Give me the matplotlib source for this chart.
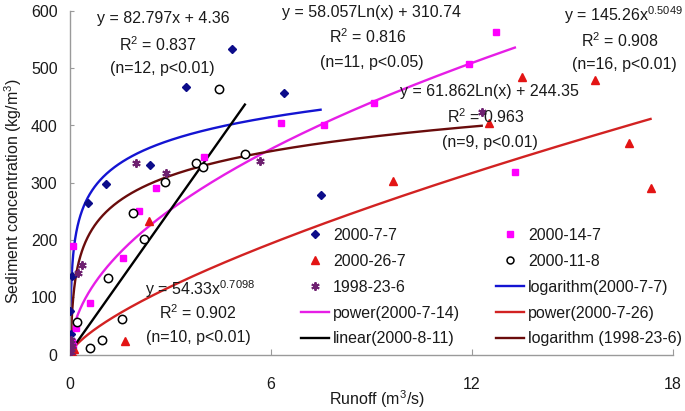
import numpy as np
import matplotlib
matplotlib.use('Agg')
import matplotlib.pyplot as plt
from matplotlib.lines import Line2D

plt.rcParams['font.family'] = ['Liberation Sans', 'DejaVu Sans']
plt.rcParams['mathtext.fontset'] = 'custom'
plt.rcParams['mathtext.rm'] = 'Liberation Sans'
plt.rcParams['mathtext.it'] = 'Liberation Sans:italic'
plt.rcParams['mathtext.bf'] = 'Liberation Sans:bold'

# ---------------- data ----------------
x_0707 = [0.01, 0.02, 0.05, 0.55, 1.07, 2.40, 3.45, 4.84, 6.40, 7.48, 0.015]
y_0707 = [76, 35, 137, 265, 298, 331, 468, 533, 456, 278, 12]

x_0714 = [0.02, 0.05, 0.18, 0.10, 0.60, 1.57, 2.06, 2.58, 4.00, 6.30, 7.58, 9.07, 11.90, 12.72, 13.28, 0.08]
y_0714 = [8, 21, 47, 189, 90, 168, 251, 291, 345, 404, 400, 439, 508, 563, 319, 15]

x_0726 = [0.12, 0.05, 1.64, 2.37, 9.65, 12.50, 13.48, 15.67, 16.70, 17.33]
y_0726 = [9, 4, 23, 233, 303, 404, 485, 480, 369, 290]

x_0811 = [4.45, 3.76, 3.96, 2.84, 5.22, 1.89, 2.21, 1.14, 1.56, 0.95, 0.60, 0.20]
y_0811 = [464, 334, 327, 301, 350, 248, 202, 134, 62, 26, 11, 57]

x_1998 = [1.97, 2.87, 5.67, 12.29, 0.35, 0.23, 0.02, 0.05, 0.03]
y_1998 = [334, 317, 338, 423, 156, 143, 5, 15, 25]

# trend-line coefficients as printed on the chart
log_0707 = (58.057, 310.74)   # y = a ln(x) + b
pow_0714 = (145.26, 0.5049)   # y = a x^b
pow_0726 = (54.33, 0.7098)    # y = a x^b
lin_0811 = (82.797, 4.36)     # y = a x + b
log_1998 = (61.862, 244.35)   # y = a ln(x) + b

x_ticks = [0, 6, 12, 18]
y_ticks = [0, 100, 200, 300, 400, 500, 600]

# ---------------- styling ----------------
c_navy = '#0c0c8a'
c_blue = '#1414d2'
c_mag = '#ff00ff'
c_magl = '#e61ee6'
c_red = '#e31414'
c_redl = '#d22222'
c_purp = '#6e2070'
c_brown = '#6a0c0c'
FS = 11.5

W, H = 685, 411
fig = plt.figure(figsize=(W / 100, H / 100), dpi=100)
ax = fig.add_axes([70 / W, 1 - 354.5 / H, 603 / W, 343.5 / H])


def span(xs, n=400):
    return np.geomspace(min(xs), max(xs), n)


xs = span(x_0707)
ax.plot(xs, log_0707[0] * np.log(xs) + log_0707[1], color=c_blue, lw=1.7, zorder=2)
xs = span(x_0714)
ax.plot(xs, pow_0714[0] * xs ** pow_0714[1], color=c_magl, lw=1.7, zorder=2)
xs = span(x_0726)
ax.plot(xs, pow_0726[0] * xs ** pow_0726[1], color=c_redl, lw=1.7, zorder=2)
xs = np.linspace(0, max(x_0811), 50)
ax.plot(xs, lin_0811[0] * xs + lin_0811[1], color='black', lw=1.7, zorder=2)
xs = span(x_1998)
ax.plot(xs, log_1998[0] * np.log(xs) + log_1998[1], color=c_brown, lw=1.7, zorder=2)

ax.plot(x_0707, y_0707, ls='none', marker='D', ms=4.5, color=c_navy, zorder=3)
ax.plot(x_0714, y_0714, ls='none', marker='s', ms=4.5, color=c_mag, zorder=3)
ax.plot(x_0726, y_0726, ls='none', marker='^', ms=6, color=c_red, zorder=3)
ax.plot(x_0811, y_0811, ls='none', marker='o', ms=6, mfc='white', mec='black', mew=1.1, zorder=3)
ax.plot(x_1998, y_1998, ls='none', marker=(6, 2, 0), ms=6, color=c_purp, mew=1.4, zorder=3)

ax.set_xlim(0, 18)
ax.set_ylim(0, 600)
ax.set_xticks(x_ticks)
ax.set_yticks(y_ticks)
for s in ['top', 'right']:
    ax.spines[s].set_visible(False)
for s in ['left', 'bottom']:
    ax.spines[s].set_color('#9a9a9a')
    ax.spines[s].set_linewidth(1.0)
ax.tick_params(axis='x', direction='in', length=4, color='#9a9a9a', pad=16, labelsize=FS, labelcolor='#1a1a1a')
ax.tick_params(axis='y', direction='in', length=3, color='#9a9a9a', pad=9, labelsize=FS, labelcolor='#1a1a1a')

ax.set_xlabel('Runoff (m$^3$/s)', fontsize=FS, color='#1a1a1a')
ax.xaxis.label.set_va('center')
ax.xaxis.set_label_coords(0.509, (354.5 - 399) / 343.5)
ax.set_ylabel('Sediment concentration (kg/m$^3$)', fontsize=FS, color='#1a1a1a')
ax.yaxis.label.set_va('center')
ax.yaxis.set_label_coords((13 - 70) / 603, (354.5 - 191) / 343.5)


def ftext(px, py, s):
    fig.text(px / W, 1 - py / H, s, ha='center', va='center', fontsize=FS, color='#1a1a1a')


# equations
ftext(163, 18, 'y = 82.797x + 4.36')
ftext(158, 45, 'R$^2$ = 0.837')
ftext(162, 68, '(n=12, p<0.01)')

ftext(372, 12, 'y = 58.057Ln(x) + 310.74')
ftext(368, 37, 'R$^2$ = 0.816')
ftext(372, 62, '(n=11, p<0.05)')

ftext(624, 15, 'y = 145.26x$^{0.5049}$')
ftext(620, 41, 'R$^2$ = 0.908')
ftext(624, 65, '(n=16, p<0.01)')

ftext(489, 91, 'y = 61.862Ln(x) + 244.35')
ftext(486, 117, 'R$^2$ = 0.963')
ftext(490, 142, '(n=9, p<0.01)')

ftext(200, 289, 'y = 54.33x$^{0.7098}$')
ftext(198, 313, 'R$^2$ = 0.902')
ftext(198, 337, '(n=10, p<0.01)')

# legends
def mk(**kw):
    return Line2D([], [], **kw)

col1 = [
    (mk(ls='none', marker='D', ms=4.5, color=c_navy), '2000-7-7'),
    (mk(ls='none', marker='^', ms=6, color=c_red), '2000-26-7'),
    (mk(ls='none', marker=(6, 2, 0), ms=6, color=c_purp, mew=1.4), '1998-23-6'),
    (mk(color=c_magl, lw=1.7), 'power(2000-7-14)'),
    (mk(color='black', lw=1.7), 'linear(2000-8-11)'),
]
col2 = [
    (mk(ls='none', marker='s', ms=4.5, color=c_mag), '2000-14-7'),
    (mk(ls='none', marker='o', ms=5, mfc='white', mec='black', mew=1.1), '2000-11-8'),
    (mk(color=c_blue, lw=1.7), 'logarithm(2000-7-7)'),
    (mk(color=c_redl, lw=1.7), 'power(2000-7-26)'),
    (mk(color=c_brown, lw=1.7), 'logarithm (1998-23-6)'),
]
common = dict(frameon=False, fontsize=FS, loc='upper left', borderpad=0, borderaxespad=0,
              handlelength=1.75, handletextpad=0.25, labelspacing=0.68, numpoints=1,
              bbox_transform=fig.transFigure, labelcolor='#1a1a1a')
leg1 = ax.legend([h for h, _ in col1], [l for _, l in col1],
                 bbox_to_anchor=(301 / W, 1 - 228 / H), **common)
ax.add_artist(leg1)
leg2 = ax.legend([h for h, _ in col2], [l for _, l in col2],
                 bbox_to_anchor=(496 / W, 1 - 228 / H), **common)

fig.savefig('out.png', dpi=100, facecolor='white')
